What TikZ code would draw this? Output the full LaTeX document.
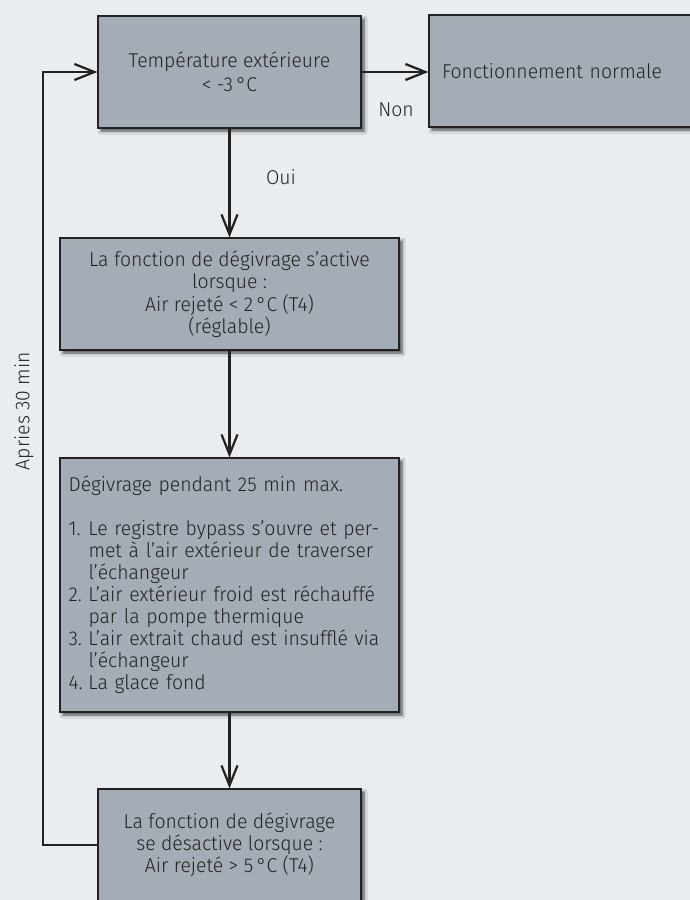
\documentclass[tikz,border=0pt]{standalone}
\usepackage{fontspec}
\setmainfont{Fira Sans}[UprightFont={* Light}, FakeStretch=0.97]
\usepackage{xcolor}
\usetikzlibrary{arrows.meta,shadows.blur}
\definecolor{bgcol}{HTML}{E9EDF0}
\definecolor{boxcol}{HTML}{A4ADB5}
\definecolor{inkcol}{HTML}{222222}
\begin{document}
\begin{tikzpicture}[x=1pt, y=-1pt,
    font=\fontsize{20}{24}\selectfont, text=inkcol,
    stepbox/.style={draw=inkcol, line width=1.2pt, fill=boxcol, align=center,
        blur shadow={shadow xshift=3pt, shadow yshift=-3pt, shadow opacity=70,
            shadow blur steps=6, shadow blur radius=3pt}},
    flow/.style={draw=inkcol, line width=2.4pt,
        -{Straight Barb[length=20pt, width=16pt, line width=2.2pt]}}]
    \path[use as bounding box, fill=bgcol] (0,0) rectangle (690,900);
    \clip (0,0) rectangle (690,900);

    \node[stepbox, minimum width=263pt, minimum height=112pt] (tempext) at (229.5,72)
        {Température extérieure\\ < -3\,°C};
    \node[stepbox, minimum width=271pt, minimum height=112pt, text width=245pt, align=left] (normal) at (564.5,71)
        {Fonctionnement normale};
    \node[stepbox, minimum width=339pt, minimum height=112pt,
        font=\fontsize{20}{22.5}\selectfont] (activ) at (229.5,294)
        {La fonction de dégivrage s’active\\ lorsque :\\ Air rejeté < 2\,°C (T4)\\ (réglable)};
    \node[stepbox, minimum width=339pt, minimum height=254pt, text width=322pt, align=left,
        font=\fontsize{20}{22}\selectfont] (degiv) at (229.5,585)
        {Dégivrage pendant 25 min max.\\[22pt]
         \makebox[20pt][l]{1.}Le registre bypass s’ouvre et per-\\
         \hspace*{20pt}met à l’air extérieur de traverser\\
         \hspace*{20pt}l’échangeur\\
         \makebox[20pt][l]{2.}L’air extérieur froid est réchauffé\\
         \hspace*{20pt}par la pompe thermique\\
         \makebox[20pt][l]{3.}L’air extrait chaud est insufflé via\\
         \hspace*{20pt}l’échangeur\\
         \makebox[20pt][l]{4.}La glace fond};
    \node[stepbox, minimum width=263pt, minimum height=112pt,
        font=\fontsize{20}{22}\selectfont] (desactiv) at (229.5,845)
        {La fonction de dégivrage\\ se désactive lorsque :\\ Air rejeté > 5\,°C (T4)};

    \draw[flow] (tempext.east) -- (tempext.east -| normal.west);
    \draw[flow] (tempext) -- (activ);
    \draw[flow] (activ) -- (degiv);
    \draw[flow] (degiv) -- (desactiv);
    \node (non) at (396,110) {Non};
    \node (oui) at (281,177) {Oui};

    \coordinate (loopc) at (43,845);
    \draw[flow] (desactiv.west) -- (loopc) |- (tempext.west);
    \node[rotate=90] (retour) at (24,411) {Apries 30 min};
\end{tikzpicture}
\end{document}
